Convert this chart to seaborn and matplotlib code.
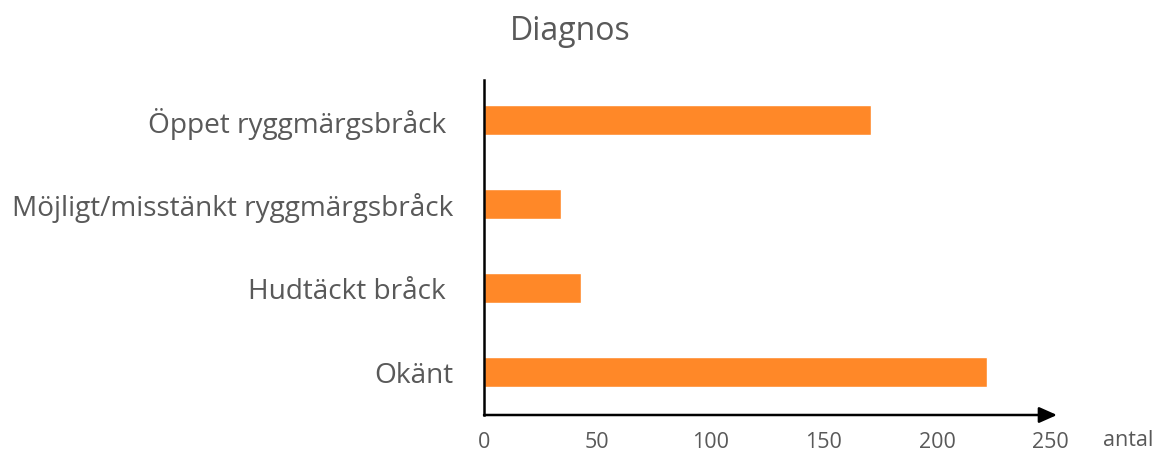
import matplotlib
matplotlib.use("Agg")
import matplotlib.pyplot as plt
import seaborn as sns
import pandas as pd

categories = ["Öppet ryggmärgsbråck ", "Möjligt/misstänkt ryggmärgsbråck", "Hudtäckt bråck ", "Okänt"]
values = [171, 34, 43, 222]
x_ticks = [0, 50, 100, 150, 200, 250]
title = "Diagnos"
x_label = "antal"

sns.set_theme(style="white")
plt.rcParams["font.family"] = ["Open Sans", "DejaVu Sans"]

TEXT = "#595959"
BAR = "#FF8828"

df = pd.DataFrame({"cat": categories, "val": values})

fig = plt.figure(figsize=(11.58, 4.55), dpi=100)
ax = fig.add_axes([484 / 1158, 1 - 415 / 455, (1057 - 484) / 1158, (415 - 80) / 455])

sns.barplot(data=df, x="val", y="cat", orient="h", color=BAR, saturation=1,
            width=0.36, ax=ax)

ax.set_xlim(0, 253)
ax.set_ylim(3.51, -0.48)
ax.set_xticks(x_ticks)
ax.set_xticklabels([str(t) for t in x_ticks])
ax.set_xlabel("")
ax.set_ylabel("")
ax.tick_params(axis="x", length=0, pad=12, labelsize=15.5, labelcolor=TEXT)
ax.tick_params(axis="y", length=0, pad=22, labelsize=20.2, labelcolor=TEXT)

for s in ["top", "right", "bottom"]:
    ax.spines[s].set_visible(False)
ax.spines["left"].set_color("black")
ax.spines["left"].set_linewidth(1.8)

ax.annotate("", xy=(1.0, 0), xytext=(0, 0), xycoords="axes fraction",
            textcoords="axes fraction",
            arrowprops=dict(arrowstyle="-|>,head_length=0.9,head_width=0.4",
                            color="black", lw=1.8, shrinkA=0, shrinkB=0),
            annotation_clip=False)

fig.text(1128 / 1158, 1 - 441 / 455, x_label, ha="center", va="center",
         fontsize=15.5, color=TEXT)
fig.text(570 / 1158, 1 - 31 / 455, title, ha="center", va="center",
         fontsize=23, color=TEXT)

fig.savefig("out.png", dpi=100, facecolor="white")
